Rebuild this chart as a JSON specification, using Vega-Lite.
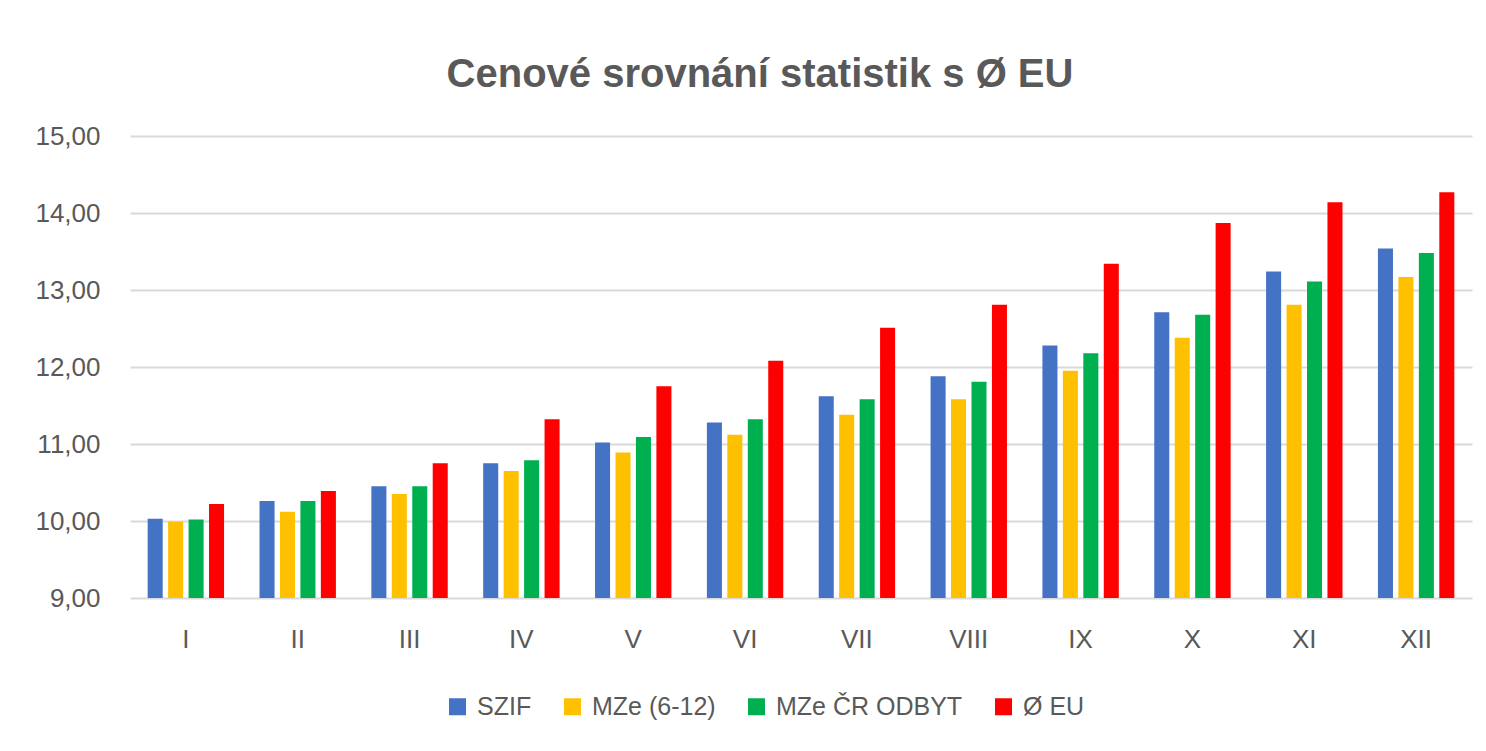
{
  "$schema": "https://vega.github.io/schema/vega-lite/v6.json",
  "autosize": {"type": "none"},
  "padding": {"left": 130, "top": 136, "right": 14, "bottom": 153},
  "width": 1342,
  "height": 462,
  "background": "white",
  "title": {
    "text": "Cenové srovnání statistik s Ø EU",
    "font": "Liberation Sans",
    "fontSize": 40,
    "fontWeight": "bold",
    "color": "#595959",
    "anchor": "middle",
    "dx": -41,
    "offset": 28
  },
  "data": {
    "values": [
      {"mesic": "I", "rada": "SZIF", "cena": 10.03},
      {"mesic": "I", "rada": "MZe (6-12)", "cena": 9.99},
      {"mesic": "I", "rada": "MZe ČR ODBYT", "cena": 10.02},
      {"mesic": "I", "rada": "Ø EU", "cena": 10.22},
      {"mesic": "II", "rada": "SZIF", "cena": 10.26},
      {"mesic": "II", "rada": "MZe (6-12)", "cena": 10.12},
      {"mesic": "II", "rada": "MZe ČR ODBYT", "cena": 10.26},
      {"mesic": "II", "rada": "Ø EU", "cena": 10.39},
      {"mesic": "III", "rada": "SZIF", "cena": 10.45},
      {"mesic": "III", "rada": "MZe (6-12)", "cena": 10.35},
      {"mesic": "III", "rada": "MZe ČR ODBYT", "cena": 10.45},
      {"mesic": "III", "rada": "Ø EU", "cena": 10.75},
      {"mesic": "IV", "rada": "SZIF", "cena": 10.75},
      {"mesic": "IV", "rada": "MZe (6-12)", "cena": 10.65},
      {"mesic": "IV", "rada": "MZe ČR ODBYT", "cena": 10.79},
      {"mesic": "IV", "rada": "Ø EU", "cena": 11.32},
      {"mesic": "V", "rada": "SZIF", "cena": 11.02},
      {"mesic": "V", "rada": "MZe (6-12)", "cena": 10.89},
      {"mesic": "V", "rada": "MZe ČR ODBYT", "cena": 11.09},
      {"mesic": "V", "rada": "Ø EU", "cena": 11.75},
      {"mesic": "VI", "rada": "SZIF", "cena": 11.28},
      {"mesic": "VI", "rada": "MZe (6-12)", "cena": 11.12},
      {"mesic": "VI", "rada": "MZe ČR ODBYT", "cena": 11.32},
      {"mesic": "VI", "rada": "Ø EU", "cena": 12.08},
      {"mesic": "VII", "rada": "SZIF", "cena": 11.62},
      {"mesic": "VII", "rada": "MZe (6-12)", "cena": 11.38},
      {"mesic": "VII", "rada": "MZe ČR ODBYT", "cena": 11.58},
      {"mesic": "VII", "rada": "Ø EU", "cena": 12.51},
      {"mesic": "VIII", "rada": "SZIF", "cena": 11.88},
      {"mesic": "VIII", "rada": "MZe (6-12)", "cena": 11.58},
      {"mesic": "VIII", "rada": "MZe ČR ODBYT", "cena": 11.81},
      {"mesic": "VIII", "rada": "Ø EU", "cena": 12.81},
      {"mesic": "IX", "rada": "SZIF", "cena": 12.28},
      {"mesic": "IX", "rada": "MZe (6-12)", "cena": 11.95},
      {"mesic": "IX", "rada": "MZe ČR ODBYT", "cena": 12.18},
      {"mesic": "IX", "rada": "Ø EU", "cena": 13.34},
      {"mesic": "X", "rada": "SZIF", "cena": 12.71},
      {"mesic": "X", "rada": "MZe (6-12)", "cena": 12.38},
      {"mesic": "X", "rada": "MZe ČR ODBYT", "cena": 12.68},
      {"mesic": "X", "rada": "Ø EU", "cena": 13.87},
      {"mesic": "XI", "rada": "SZIF", "cena": 13.24},
      {"mesic": "XI", "rada": "MZe (6-12)", "cena": 12.81},
      {"mesic": "XI", "rada": "MZe ČR ODBYT", "cena": 13.11},
      {"mesic": "XI", "rada": "Ø EU", "cena": 14.14},
      {"mesic": "XII", "rada": "SZIF", "cena": 13.54},
      {"mesic": "XII", "rada": "MZe (6-12)", "cena": 13.17},
      {"mesic": "XII", "rada": "MZe ČR ODBYT", "cena": 13.48},
      {"mesic": "XII", "rada": "Ø EU", "cena": 14.27}
    ]
  },
  "mark": {"type": "bar"},
  "encoding": {
    "x": {
      "field": "mesic",
      "type": "nominal",
      "sort": ["I", "II", "III", "IV", "V", "VI", "VII", "VIII", "IX", "X", "XI", "XII"],
      "scale": {"paddingInner": 0.317, "paddingOuter": 0.158},
      "axis": {
        "title": null,
        "labelAngle": 0,
        "ticks": false,
        "domain": false,
        "labelPadding": 28,
        "labelFont": "Liberation Sans",
        "labelFontSize": 26,
        "labelColor": "#595959"
      }
    },
    "xOffset": {
      "field": "rada",
      "type": "nominal",
      "sort": ["SZIF", "MZe (6-12)", "MZe ČR ODBYT", "Ø EU"],
      "scale": {"paddingInner": 0.265, "paddingOuter": 0}
    },
    "y": {
      "field": "cena",
      "type": "quantitative",
      "scale": {"domain": [9, 15], "zero": false, "nice": false},
      "axis": {
        "title": null,
        "values": [9, 10, 11, 12, 13, 14, 15],
        "labelExpr": "replace(format(datum.value, '.2f'), '.', ',')",
        "ticks": false,
        "domain": false,
        "labelPadding": 30,
        "labelFont": "Liberation Sans",
        "labelFontSize": 26,
        "labelColor": "#595959",
        "grid": true,
        "gridColor": "#d9d9d9",
        "gridWidth": 2
      }
    },
    "y2": {"datum": 9},
    "color": {
      "field": "rada",
      "type": "nominal",
      "scale": {
        "domain": ["SZIF", "MZe (6-12)", "MZe ČR ODBYT", "Ø EU"],
        "range": ["#4472C4", "#FFC000", "#00B050", "#FF0000"]
      },
      "legend": {
        "title": null,
        "orient": "none",
        "legendX": 315,
        "legendY": 558,
        "direction": "horizontal",
        "symbolType": "square",
        "symbolSize": 289,
        "symbolStrokeWidth": 0,
        "labelFont": "Liberation Sans",
        "labelFontSize": 25,
        "labelColor": "#595959",
        "labelOffset": 7,
        "labelLimit": 0,
        "columnPadding": 28,
        "padding": 0
      }
    }
  },
  "config": {"view": {"stroke": null}}
}
